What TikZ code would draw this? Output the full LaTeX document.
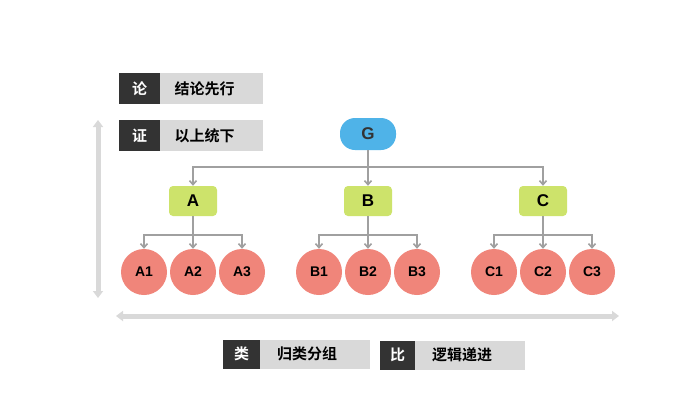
\documentclass[tikz,border=0pt]{standalone}
\usepackage{fontspec}
\setmainfont{Liberation Sans}
\newfontfamily\cjk{Noto Sans CJK SC}[BoldFont={Noto Sans CJK SC Bold}]
\usetikzlibrary{arrows.meta}
\definecolor{gblue}{HTML}{4FB3E8}
\definecolor{ggreen}{HTML}{CDE36B}
\definecolor{gred}{HTML}{F0857A}
\definecolor{gline}{HTML}{A0A0A0}
\definecolor{gdark}{HTML}{333333}
\definecolor{glight}{HTML}{D9D9D9}
\begin{document}
\begin{tikzpicture}[x=1pt,y=-1pt,
  conn/.style={draw=gline,line width=1.6pt,-{Straight Barb[length=4pt,width=7pt]}},
  ln/.style={draw=gline,line width=1.6pt},
  big/.style={draw=glight,line width=5pt,{Triangle[length=7pt,width=10pt]}-{Triangle[length=7pt,width=10pt]}},
  darkb/.style={fill=gdark,text=white,font=\cjk\bfseries\fontsize{15}{15}\selectfont,inner sep=0pt,minimum height=31pt,anchor=west},
  lightb/.style={fill=glight,text=black,font=\cjk\bfseries\fontsize{15}{15}\selectfont,inner sep=0pt,minimum height=31pt,anchor=west},
  gnode/.style={fill=gblue,rounded corners=15pt,minimum width=56pt,minimum height=32pt,font=\bfseries\fontsize{17}{17}\selectfont,text=gdark},
  mnode/.style={fill=ggreen,rounded corners=4pt,minimum width=48pt,minimum height=30pt,font=\bfseries\fontsize{17}{17}\selectfont,text=black},
  cnode/.style={fill=gred,circle,minimum size=46pt,inner sep=0pt,font=\bfseries\fontsize{14}{14}\selectfont,text=black}]
\path[fill=white] (0,0) rectangle (699,405);
\useasboundingbox (0,0) rectangle (699,405);
% label boxes
\node[darkb,minimum width=41pt] (l1) at (119,88.5) {论};
\node[lightb,minimum width=103pt,text width=90pt] (l1t) at (160,88.5) {\hspace*{8pt}结论先行};
\node[darkb,minimum width=41pt] (l2) at (119,135.5) {证};
\node[lightb,minimum width=103pt,text width=90pt] (l2t) at (160,135.5) {\hspace*{8pt}以上统下};
\node[darkb,minimum width=37pt,minimum height=29pt] (l3) at (223,354) {类};
\node[lightb,minimum width=110pt,minimum height=29pt,text width=100pt] (l3t) at (260,354) {\hspace*{12pt}归类分组};
\node[darkb,minimum width=35pt,minimum height=29pt] (l4) at (380,355) {比};
\node[lightb,minimum width=110pt,minimum height=29pt,text width=100pt] (l4t) at (415,355) {\hspace*{12pt}逻辑递进};
% big arrows
\coordinate (v1) at (98,120); \coordinate (v2) at (98,298);
\draw[big] (v1) -- (v2);
\coordinate (h1) at (116,316); \coordinate (h2) at (619,316);
\draw[big] (h1) -- (h2);
% tree
\node[gnode] (G) at (368,134) {G};
\node[mnode] (A) at (193,201) {A};
\node[mnode] (B) at (368,201) {B};
\node[mnode] (C) at (543,201) {C};
\coordinate (gj) at (368,167);
\draw[ln] (G) -- (gj);
\foreach \n in {A,B,C}{\draw[conn] (gj) -| (\n.north);}
\foreach \p/\x in {A/193,B/368,C/543}{
  \node[cnode] (\p1) at (\x-49,272) {\p1};
  \node[cnode] (\p2) at (\x,272) {\p2};
  \node[cnode] (\p3) at (\x+49,272) {\p3};
  \coordinate (\p j) at (\x,235);
  \draw[ln] (\p) -- (\p j);
  \foreach \i in {1,2,3}{\draw[conn] (\p j) -| (\p\i.north);}
}
\end{tikzpicture}
\end{document}
